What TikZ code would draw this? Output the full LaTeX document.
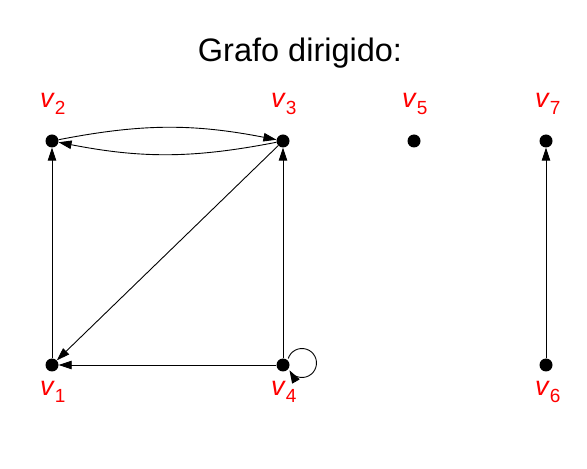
\documentclass[tikz,border=0pt]{standalone}
\usepackage{fontspec}
\setmainfont{Liberation Sans}
\usetikzlibrary{arrows.meta,calc}
\newcommand{\vlab}[1]{\fontsize{27}{27}\selectfont\textit{v}\raisebox{-7pt}{\fontsize{19}{19}\selectfont #1}}
\begin{document}
\begin{tikzpicture}[x=1pt,y=1pt,
  vert/.style={circle,fill=black,inner sep=0pt,minimum size=13pt},
  vlabel/.style={text=red,inner sep=0pt,anchor=base west},
  arc/.style={line width=0.9pt,-{Triangle[length=13pt,width=8.5pt]}}]
\useasboundingbox (0,0) rectangle (587,469);
\node[font=\fontsize{32.5}{32.5}\selectfont,anchor=base] (title) at (300,407) {Grafo dirigido:};
\node[vert] (v1) at (52,104) {};
\node[vert] (v2) at (52,328) {};
\node[vert] (v3) at (283,328) {};
\node[vert] (v4) at (283,104) {};
\node[vert] (v5) at (414,328) {};
\node[vert] (v6) at (546,104) {};
\node[vert] (v7) at (546,328) {};
\node[vlabel] (l2) at (40,361) {\vlab{2}};
\node[vlabel] (l3) at (271,361) {\vlab{3}};
\node[vlabel] (l5) at (402,361) {\vlab{5}};
\node[vlabel] (l7) at (535,361) {\vlab{7}};
\node[vlabel] (l1) at (40,73) {\vlab{1}};
\node[vlabel] (l4) at (271,73) {\vlab{4}};
\node[vlabel] (l6) at (535,73) {\vlab{6}};
\draw[arc] (v2) to[bend left=11] (v3);
\draw[arc] (v3) to[bend left=11] (v2);
\draw[arc] (v1) -- (v2);
\draw[arc] (v4) -- (v3);
\draw[arc] (v3) -- (v1);
\draw[arc] (v4) -- (v1);
\draw[arc] (v6) -- (v7);
\draw[arc] ($(v4)+(19,2)+(162:14.5)$) arc[start angle=162,end angle=-150,radius=14.5];
\end{tikzpicture}
\end{document}
